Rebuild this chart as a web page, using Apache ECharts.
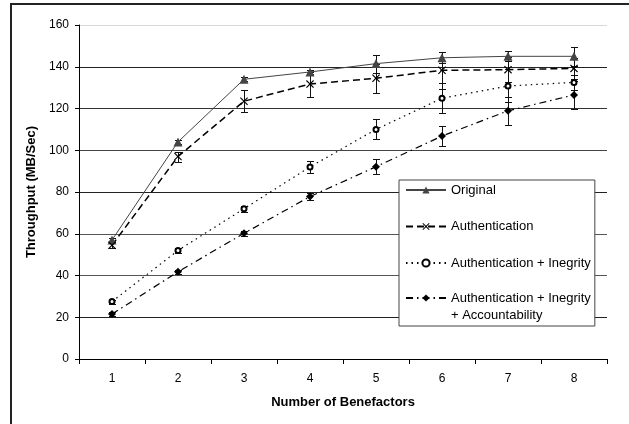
<!DOCTYPE html>
<html>
<head>
<meta charset="utf-8">
<script src="https://cdn.jsdelivr.net/npm/echarts@6/dist/echarts.min.js"></script>
<style>
  html, body { margin: 0; padding: 0; background: #fff; }
  #chart { width: 629px; height: 424px; }
</style>
</head>
<body>
<div id="chart"></div>
<script>
// Throughput vs. number of benefactors, four security configurations
const categories = ['1', '2', '3', '4', '5', '6', '7', '8'];

const nameOriginal = 'Original';
const nameAuth = 'Authentication';
const nameAuthInt = 'Authentication + Inegrity';
const nameAuthIntAcc = 'Authentication + Inegrity\n+ Accountability';

// mean throughput (MB/Sec)
const original   = [57, 104, 134, 137.5, 141.5, 144.3, 145, 145];
const auth       = [54.5, 97, 123.5, 131.7, 134.5, 138.3, 138.6, 139.2];
const authInt    = [27.5, 52, 72, 92, 110, 124.9, 130.8, 132.5];
const authIntAcc = [21.5, 41.8, 60.2, 77.8, 92.1, 106.8, 118.9, 126.5];

// error bar half-widths (MB/Sec)
const originalErr   = [1, 1, 1, 1, 4.3, 2.7, 2.4, 4.5];
const authErr       = [1.5, 2.4, 5.2, 6, 7, 9, 6, 5];
const authIntErr    = [1, 1, 1.5, 3, 4.8, 7.2, 7.9, 3.5];
const authIntAccErr = [1, 1, 1.2, 1.5, 3.5, 4.8, 6.8, 6.7];

const yMin = 0, yMax = 160, yStep = 20;

const crossSymbol = 'path://M0,1L1,0L5,4L9,0L10,1L6,5L10,9L9,10L5,6L1,10L0,9L4,5Z';

function errorData(vals, errs) {
  return vals.map((v, i) => [i, v - errs[i], v + errs[i]]);
}

function errorSeries(vals, errs) {
  return {
    type: 'custom',
    z: 1,
    silent: true,
    data: errorData(vals, errs),
    renderItem(params, api) {
      const idx = api.value(0);
      const lo = api.coord([idx, api.value(1)]);
      const hi = api.coord([idx, api.value(2)]);
      const cx = Math.round(lo[0]) + 0.5;
      const yLo = Math.round(lo[1]) + 0.5;
      const yHi = Math.round(hi[1]) + 0.5;
      const hw = 3.5;
      const st = { stroke: '#111', lineWidth: 1 };
      return {
        type: 'group',
        children: [
          { type: 'line', shape: { x1: cx, y1: yHi, x2: cx, y2: yLo }, style: st },
          { type: 'line', shape: { x1: cx - hw, y1: yHi, x2: cx + hw, y2: yHi }, style: st },
          { type: 'line', shape: { x1: cx - hw, y1: yLo, x2: cx + hw, y2: yLo }, style: st }
        ]
      };
    }
  };
}

const baseFont = 'Liberation Sans, Arial, sans-serif';
const legendText = { fontFamily: baseFont, fontSize: 13, color: '#000', lineHeight: 17 };

const chart = echarts.init(document.getElementById('chart'), null, { renderer: 'canvas' });

chart.setOption({
  backgroundColor: '#fff',
  animation: false,
  graphic: [{
    type: 'rect',
    shape: { x: 11, y: 4, width: 700, height: 500 },
    style: { fill: 'none', stroke: '#222', lineWidth: 2 },
    z: -10, silent: true
  }],
  grid: { left: 79, top: 25, right: 22, bottom: 65, containLabel: false },
  xAxis: {
    type: 'category',
    data: categories,
    boundaryGap: true,
    name: 'Number of Benefactors',
    nameLocation: 'middle',
    nameGap: 37,
    nameTextStyle: { fontFamily: baseFont, fontWeight: 'bold', fontSize: 13, color: '#000' },
    axisLine: { lineStyle: { color: '#000', width: 1 } },
    axisTick: { show: true, inside: false, length: 5, alignWithLabel: false, lineStyle: { color: '#000' } },
    axisLabel: { fontFamily: baseFont, fontSize: 12, color: '#000', margin: 14 },
    splitLine: { show: false }
  },
  yAxis: {
    type: 'value',
    min: yMin, max: yMax, interval: yStep,
    name: 'Throughput (MB/Sec)',
    nameLocation: 'middle',
    nameGap: 34,
    nameTextStyle: { fontFamily: baseFont, fontWeight: 'bold', fontSize: 13, color: '#000' },
    axisLine: { show: true, lineStyle: { color: '#000', width: 1 } },
    axisTick: { show: true, inside: false, length: 4, lineStyle: { color: '#000' } },
    axisLabel: { fontFamily: baseFont, fontSize: 12, color: '#000', margin: 10 },
    splitLine: {
      show: true,
      lineStyle: { color: ['#000', '#222', '#555', '#555', '#222', '#444', '#333', '#222', '#d9d9d9'], width: 1 }
    }
  },
  legend: [
    {
      // boxed legend; its bottom padding also frames the two-line entry below
      orient: 'vertical',
      left: 399, top: 180,
      itemWidth: 40, itemHeight: 9, itemGap: 19.5,
      padding: [1.5, 4, 54.5, 6],
      backgroundColor: '#fff',
      borderColor: '#444', borderWidth: 1, borderRadius: 0,
      textStyle: legendText,
      data: [nameOriginal, nameAuth, nameAuthInt]
    },
    {
      // two-line entry: a blank leading line keeps the first line level with its key
      orient: 'vertical',
      left: 399, top: 272.5,
      z: 6,
      itemWidth: 40, itemHeight: 9,
      padding: [0, 4, 0, 6],
      textStyle: legendText,
      formatter: name => ' \n' + name,
      data: [nameAuthIntAcc]
    }
  ],
  series: [
    errorSeries(original, originalErr),
    errorSeries(auth, authErr),
    errorSeries(authInt, authIntErr),
    errorSeries(authIntAcc, authIntAccErr),
    {
      name: nameOriginal, type: 'line', z: 3, data: original,
      symbol: 'triangle', symbolSize: 9,
      lineStyle: { color: '#444', width: 1, type: 'solid' },
      itemStyle: { color: '#444' }
    },
    {
      name: nameAuth, type: 'line', z: 3, data: auth,
      symbol: crossSymbol, symbolSize: 8,
      lineStyle: { color: '#000', width: 1.5, type: [7, 4] },
      itemStyle: { color: '#000' }
    },
    {
      name: nameAuthInt, type: 'line', z: 3, data: authInt,
      symbol: 'emptyCircle', symbolSize: 5,
      lineStyle: { color: '#000', width: 1.2, type: [1.5, 4] },
      itemStyle: { color: '#000', borderColor: '#000', borderWidth: 1 }
    },
    {
      name: nameAuthIntAcc, type: 'line', z: 3, data: authIntAcc,
      symbol: 'diamond', symbolSize: 8,
      lineStyle: { color: '#000', width: 1.2, type: [7, 4, 1.5, 4] },
      itemStyle: { color: '#000' }
    }
  ]
});
</script>
</body>
</html>
